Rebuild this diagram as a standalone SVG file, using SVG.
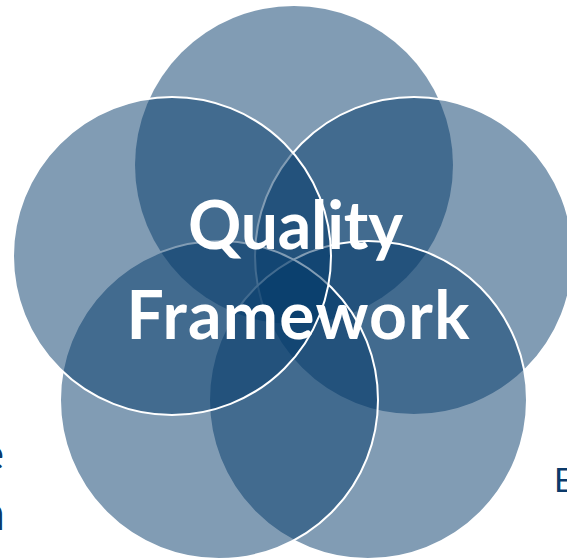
<svg xmlns="http://www.w3.org/2000/svg" width="567" height="558" viewBox="0 0 567 558">
  <style>
    .c { fill: #03396a; fill-opacity: 0.5; stroke: #ffffff; stroke-width: 2; }
    .c0 { stroke: none; }
    .title { font-family: Lato, "Open Sans", "Liberation Sans", sans-serif; font-weight: 700; font-size: 66px; fill: #ffffff; text-anchor: middle; }
    .edge { font-family: Lato, "Open Sans", "Liberation Sans", sans-serif; fill: #0b3a6b; }
  </style>
  <rect width="567" height="558" fill="#ffffff"/>
  <g id="circle-top"><circle class="c c0" cx="294" cy="165" r="159"/></g>
  <g id="circle-right"><circle class="c" cx="414" cy="256" r="159"/></g>
  <g id="circle-bottom-right"><circle class="c" cx="368" cy="400" r="159"/></g>
  <g id="circle-bottom-left"><circle class="c" cx="219" cy="400" r="159"/></g>
  <g id="circle-left"><circle class="c" cx="172" cy="256" r="159"/></g>
  <g id="connectors"></g>
  <g id="title">
    <text class="title" x="295.5" y="249" textLength="215">Quality</text>
    <text class="title" x="298" y="339" textLength="343">Framework</text>
  </g>
  <g id="edge-labels">
    <text class="edge" x="4" y="470" font-size="46" text-anchor="end">e</text>
    <text class="edge" x="5" y="530" font-size="48" text-anchor="end">n</text>
    <text class="edge" x="554" y="492" font-size="33">E</text>
  </g>
</svg>
